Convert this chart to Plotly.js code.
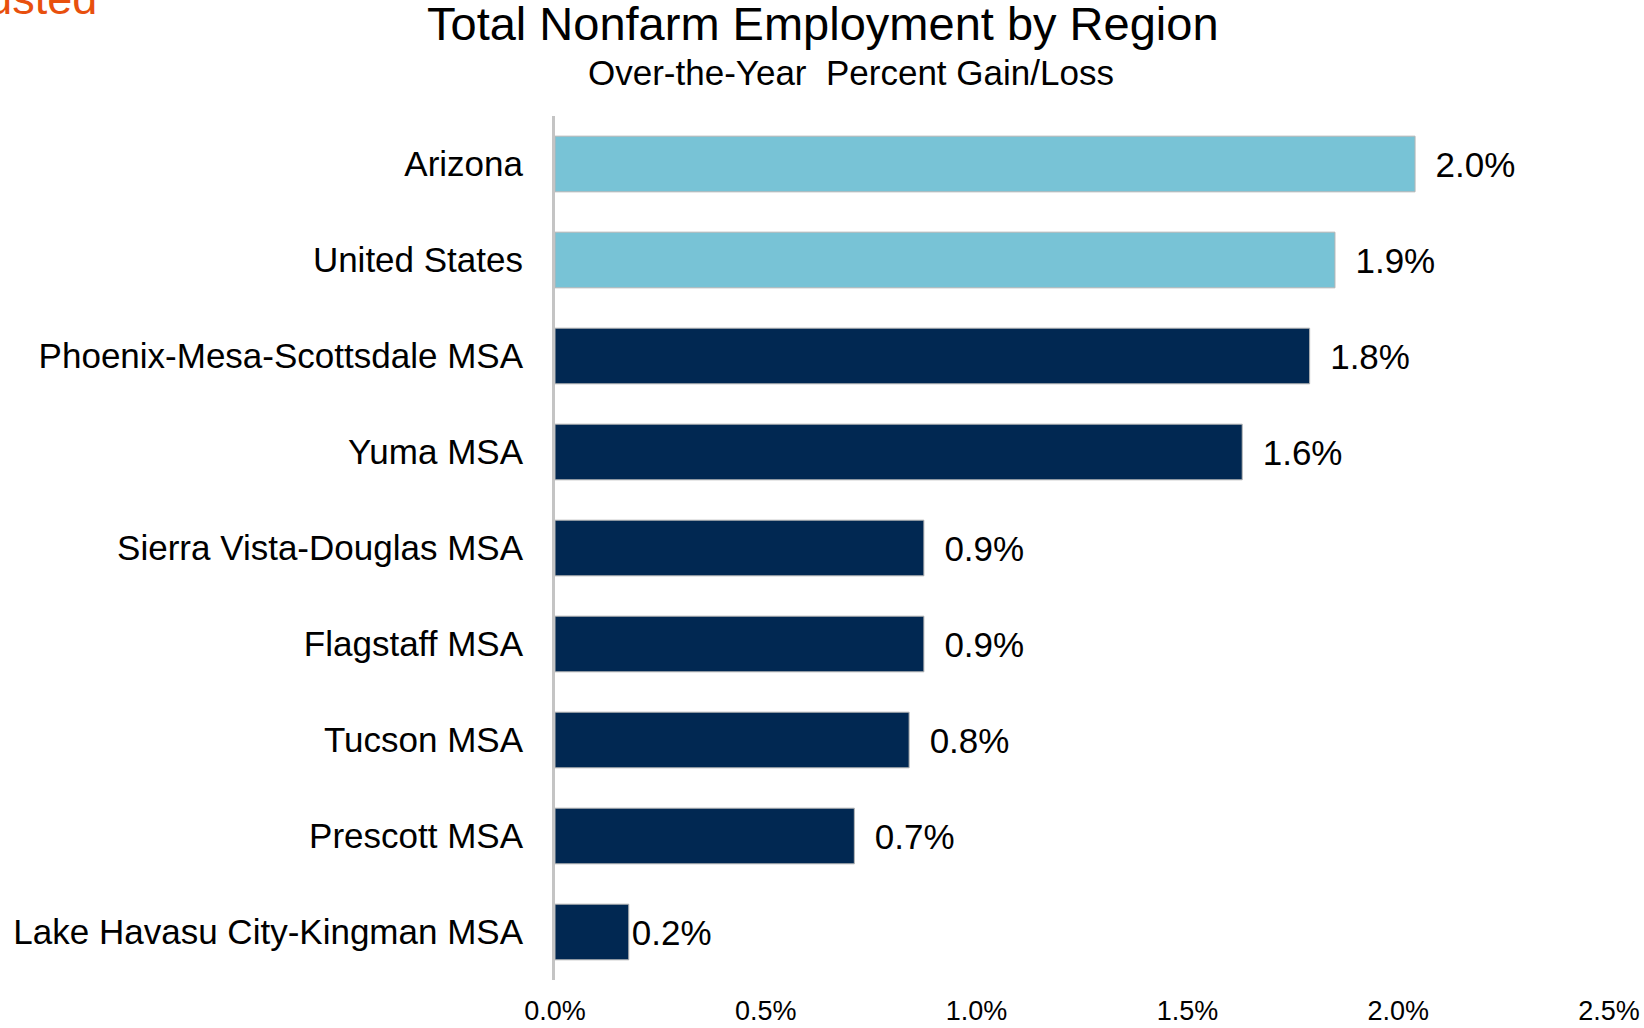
<!DOCTYPE html>
<html>
<head>
<meta charset="utf-8">
<script src="https://cdn.plot.ly/plotly-3.0.1.min.js"></script>
<style>html,body{margin:0;padding:0;background:#fff;}#chart{width:1644px;height:1028px;}</style>
</head>
<body>
<div id="chart"></div>
<script>
const regions = ["Arizona", "United States", "Phoenix-Mesa-Scottsdale MSA", "Yuma MSA",
  "Sierra Vista-Douglas MSA", "Flagstaff MSA", "Tucson MSA", "Prescott MSA",
  "Lake Havasu City-Kingman MSA"];
const gainPct = [2.04, 1.85, 1.79, 1.63, 0.875, 0.875, 0.84, 0.71, 0.175];
const valueLabels = ["2.0%", "1.9%", "1.8%", "1.6%", "0.9%", "0.9%", "0.8%", "0.7%", "0.2%"];
const isStateOrNation = [true, true, false, false, false, false, false, false, false];
const xTickVals = [0, 0.5, 1.0, 1.5, 2.0, 2.5];
const xTickText = ["0.0%", "0.5%", "1.0%", "1.5%", "2.0%", "2.5%"];

const LIGHT = "#78C3D6", NAVY = "#012852";
const FONT = "Liberation Sans, Arial, sans-serif";

const trace = {
  type: "bar",
  orientation: "h",
  y: regions,
  x: gainPct,
  width: 0.58,
  marker: {
    color: isStateOrNation.map(b => b ? LIGHT : NAVY),
    line: {color: "#B5B5B5", width: 1}
  },
  text: valueLabels.map((t, i) => (gainPct[i] < 0.3 ? "" : "\u2002") + t),
  textposition: "outside",
  textfont: {family: FONT, size: 35, color: "#000"},
  cliponaxis: false,
  hoverinfo: "skip"
};

const layout = {
  width: 1644, height: 1028,
  margin: {l: 555, r: 35, t: 116, b: 48},
  paper_bgcolor: "#fff", plot_bgcolor: "#fff",
  showlegend: false,
  font: {family: FONT, color: "#000"},
  bargap: 0.42,
  xaxis: {
    range: [0, 2.5], tickvals: xTickVals, ticktext: xTickText,
    showgrid: false, zeroline: false, showline: false,
    ticks: "outside", ticklen: 7, tickcolor: "rgba(0,0,0,0)",
    tickfont: {family: FONT, size: 27, color: "#000"}
  },
  yaxis: {
    autorange: "reversed", showgrid: false, zeroline: false,
    showline: true, linecolor: "#C4C4C4", linewidth: 3,
    ticks: "outside", ticklen: 22, tickcolor: "rgba(0,0,0,0)",
    tickfont: {family: FONT, size: 35, color: "#000"}
  },
  annotations: [
    {text: "Total Nonfarm Employment by Region", xref: "paper", yref: "paper",
     x: (823 - 555) / 1054, y: 1 + (116 - 23) / 864, xanchor: "center", yanchor: "middle",
     showarrow: false, font: {family: FONT, size: 47, color: "#000"}},
    {text: "Over-the-Year\u00a0 Percent Gain/Loss", xref: "paper", yref: "paper",
     x: (851 - 555) / 1054, y: 1 + (116 - 73) / 864, xanchor: "center", yanchor: "middle",
     showarrow: false, font: {family: FONT, size: 35, color: "#000"}},
    {text: "Seasonally Adjusted", xref: "paper", yref: "paper",
     x: (99 - 555) / 1054, y: 1 + (116 + 1) / 864, xanchor: "right", yanchor: "middle",
     showarrow: false, font: {family: FONT, size: 45, color: "#E8500E"}}
  ]
};

Plotly.newPlot("chart", [trace], layout, {displayModeBar: false, staticPlot: true});
</script>
</body>
</html>
